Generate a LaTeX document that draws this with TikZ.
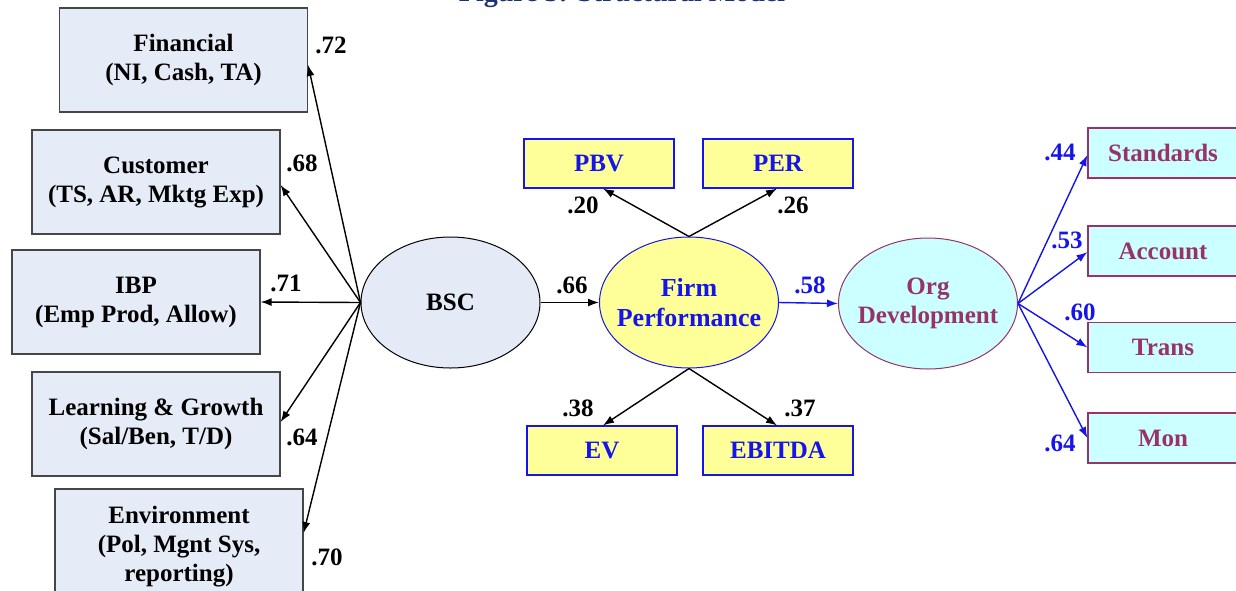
\documentclass[tikz,border=0pt]{standalone}
\usepackage{fontspec}
\setmainfont{Liberation Serif}
\usetikzlibrary{shapes.geometric,arrows.meta,calc}
\definecolor{boxfill}{RGB}{230,236,247}
\definecolor{bscfill}{RGB}{228,234,246}
\definecolor{boxline}{RGB}{70,70,70}
\definecolor{yfill}{RGB}{255,255,153}
\definecolor{bl}{RGB}{20,20,235}
\definecolor{cfill}{RGB}{204,255,255}
\definecolor{maroon}{RGB}{153,51,102}
\definecolor{titleblue}{RGB}{25,50,120}
\newcommand{\zw}[1]{\makebox[0pt]{#1}}
\begin{document}
\begin{tikzpicture}[x=0.5pt,y=-0.5pt,
  font=\fontsize{12.5}{14.5}\selectfont\bfseries,
  lbox/.style={rectangle,draw=boxline,fill=boxfill,line width=0.6pt,minimum width=124pt,minimum height=52pt,align=center,inner sep=1pt},
  ybox/.style={rectangle,draw=bl,fill=yfill,line width=0.6pt,minimum width=75pt,minimum height=24.5pt,text=bl,inner sep=1pt},
  cbox/.style={rectangle,draw=maroon,fill=cfill,line width=0.6pt,minimum width=75pt,minimum height=25pt,text=maroon,inner sep=1pt},
  lat/.style={ellipse,minimum width=89.5pt,minimum height=65.5pt,line width=0.5pt,align=center,inner sep=0pt},
  arr/.style={-{Latex[length=5.5pt,width=4pt]},line width=0.7pt},
  coef/.style={inner sep=0pt},
  bcoef/.style={inner sep=0pt,text=bl}]
\useasboundingbox (0,0) rectangle (1236,590);
% title (cropped by the page edge, as in the reference)
\node[anchor=base,text=titleblue,font=\fontsize{14}{16}\selectfont\bfseries] (title) at (622,1) {Figure 3: Structural Model};
% left indicator boxes
\node[lbox] (fin) at (183.5,60) {Financial\\(NI, Cash, TA)};
\node[lbox] (cus) at (156,182) {Customer\\(TS, AR, Mktg Exp)};
\node[lbox] (ibp) at (136,302) {IBP\\(Emp Prod, Allow)};
\node[lbox] (lag) at (156,424) {Learning \& Growth\\(Sal/Ben, T/D)};
\node[lbox,minimum height=58pt] (env) at (179,547) {Environment\\(Pol, Mgnt Sys,\\reporting)};
% latent variables
\node[lat,draw=black,fill=bscfill] (bsc) at (450.5,302.5) {\zw{BSC}};
\node[lat,draw=bl,fill=yfill,text=bl,font=\fontsize{13}{15}\selectfont\bfseries] (fp) at (689,302.5) {\zw{Firm}\\\zw{Performance}};
\node[lat,draw=maroon,fill=cfill,text=maroon] (od) at (928,303.5) {\zw{Org}\\\zw{Development}};
% firm performance indicators
\node[ybox] (pbv) at (599,163.5) {PBV};
\node[ybox] (per) at (778,163.5) {PER};
\node[ybox] (ev) at (602,450.5) {EV};
\node[ybox] (ebitda) at (778,450.5) {EBITDA};
% org development indicators
\node[cbox] (std) at (1163,153) {Standards};
\node[cbox] (acc) at (1163,251) {Account};
\node[cbox] (tra) at (1163,347.5) {Trans};
\node[cbox] (mon) at (1163,438) {Mon};
% connectors BSC
\draw[arr] (bsc.west) -- ($(fin.east)+(0,5)$);
\draw[arr] (bsc.west) -- ($(cus.east)+(0,3)$);
\draw[arr] (bsc.west) -- (ibp.east);
\draw[arr] (bsc.west) -- ($(lag.east)+(0,-2)$);
\draw[arr] (bsc.west) -- ($(env.east)+(0,-14)$);
\draw[arr] (bsc.east) -- (fp.west);
% connectors FP
\draw[arr] (fp.north) -- ($(pbv.south)+(4,0)$);
\draw[arr] (fp.north) -- ($(per.south)+(-1,0)$);
\draw[arr] (fp.south) -- ($(ev.north)+(1,0)$);
\draw[arr] (fp.south) -- ($(ebitda.north)+(-1,0)$);
\draw[arr,draw=bl,fill=bl] (fp.east) -- (od.west);
% connectors OD
\draw[arr,draw=bl,fill=bl] (od.east) -- ($(std.west)+(0,2)$);
\draw[arr,draw=bl,fill=bl] (od.east) -- ($(acc.west)+(0,1)$);
\draw[arr,draw=bl,fill=bl] (od.east) -- (tra.west);
\draw[arr,draw=bl,fill=bl] (od.east) -- (mon.west);
% coefficients
\node[coef] (c1) at (331,45) {.72};
\node[coef] (c2) at (302,163) {.68};
\node[coef] (c3) at (286,283) {.71};
\node[coef] (c4) at (302,437) {.64};
\node[coef] (c5) at (327,557) {.70};
\node[coef] (c6) at (572,285) {.66};
\node[bcoef] (c7) at (810,285) {.58};
\node[coef] (c8) at (583,205) {.20};
\node[coef] (c9) at (793,205) {.26};
\node[coef] (c10) at (578,408) {.38};
\node[coef] (c11) at (800,408) {.37};
\node[bcoef] (c12) at (1060,152) {.44};
\node[bcoef] (c13) at (1067,240) {.53};
\node[bcoef] (c14) at (1080,312) {.60};
\node[bcoef] (c15) at (1060,443) {.64};
\end{tikzpicture}
\end{document}
